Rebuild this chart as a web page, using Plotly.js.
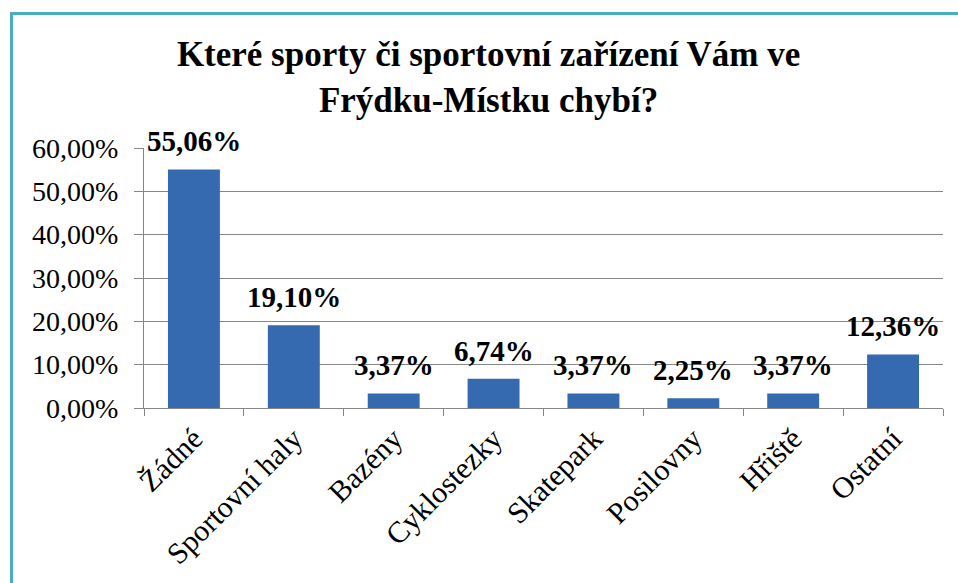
<!DOCTYPE html>
<html>
<head>
<meta charset="utf-8">
<script src="https://cdn.plot.ly/plotly-3.0.1.min.js"></script>
<style>
html,body{margin:0;padding:0;background:#fff;}
#wrap{position:relative;width:958px;height:583px;overflow:hidden;}
#chart{position:absolute;left:0;top:0;width:958px;height:583px;}
#frame{position:absolute;left:10px;top:12px;width:960px;height:600px;border-top:3px solid #4BACC6;border-left:3px solid #4BACC6;pointer-events:none;}
</style>
</head>
<body>
<div id="wrap"><div id="chart"></div><div id="frame"></div></div>
<script>
const categories = ["Žádné","Sportovní haly","Bazény","Cyklostezky","Skatepark","Posilovny","Hřiště","Ostatní"];
const values = [55.06, 19.10, 3.37, 6.74, 3.37, 2.25, 3.37, 12.36];
const valueLabels = ["55,06%","19,10%","3,37%","6,74%","3,37%","2,25%","3,37%","12,36%"];
const yTickVals = [0,10,20,30,40,50,60];
const yTickText = ["0,00%","10,00%","20,00%","30,00%","40,00%","50,00%","60,00%"];
const titleText = "Které sporty či sportovní zařízení Vám ve<br>Frýdku-Místku chybí?";

const serif = "'Liberation Serif', 'Times New Roman', serif";

const trace = {
  type: "bar",
  x: categories,
  y: values,
  marker: {color: "#356AB0", line: {width: 0}},
  hoverinfo: "skip"
};

const annotations = categories.map((c, i) => ({
  x: c, y: values[i], xref: "x", yref: "y",
  text: "<b>" + valueLabels[i] + "</b>",
  showarrow: false, yanchor: "middle", yshift: 28,
  font: {family: serif, size: 29, color: "#000"}
}));

const layout = {
  width: 958, height: 583,
  paper_bgcolor: "#fff", plot_bgcolor: "#fff",
  margin: {l: 144, r: 15, t: 148, b: 175},
  showlegend: false,
  bargap: 0.48,
  title: {
    text: "<b>" + titleText + "</b>",
    font: {family: serif, size: 35, color: "#000"},
    xref: "container", x: 0.51, xanchor: "center",
    yref: "container", y: 0.886, yanchor: "middle"
  },
  xaxis: {
    type: "category",
    tickangle: -45,
    tickson: "boundaries",
    ticks: "outside", ticklen: 7, tickcolor: "#868686",
    showline: true, linecolor: "#868686", linewidth: 1,
    showgrid: false,
    tickfont: {family: serif, size: 30, color: "#000"}
  },
  yaxis: {
    range: [0, 60],
    tickvals: yTickVals, ticktext: yTickText,
    ticks: "outside", ticklen: 9, tickcolor: "#868686",
    ticklabelstandoff: 10,
    showline: true, linecolor: "#868686", linewidth: 1,
    showgrid: true, gridcolor: "#868686", gridwidth: 1,
    zeroline: false,
    tickfont: {family: serif, size: 28, color: "#000"}
  },
  annotations: annotations
};

Plotly.newPlot("chart", [trace], layout, {displayModeBar: false, staticPlot: true});
</script>
</body>
</html>
